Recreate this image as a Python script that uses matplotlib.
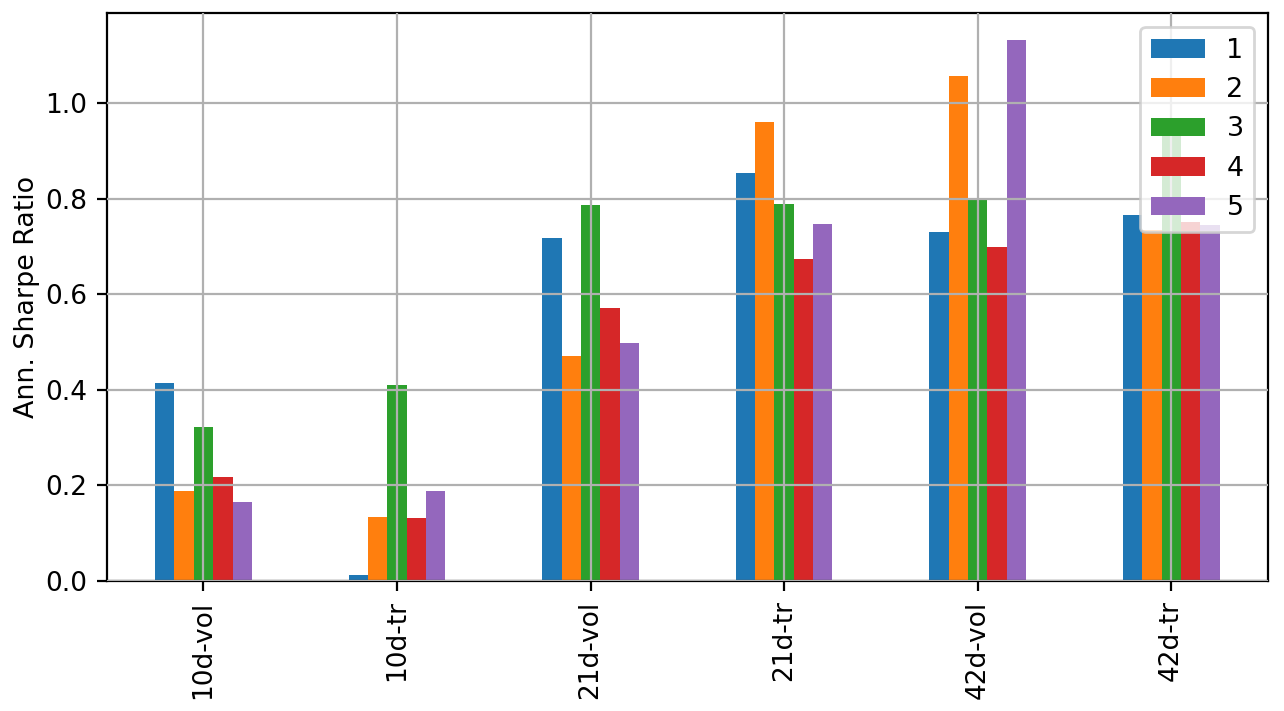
import matplotlib
matplotlib.use("Agg")
import matplotlib.pyplot as plt
import numpy as np
import pandas as pd

categories = ["10d-vol", "10d-tr", "21d-vol", "21d-tr", "42d-vol", "42d-tr"]
s1 = [0.414, 0.012, 0.718, 0.854, 0.731, 0.766]
s2 = [0.188, 0.133, 0.471, 0.961, 1.056, 0.735]
s3 = [0.322, 0.410, 0.787, 0.789, 0.798, 0.930]
s4 = [0.217, 0.131, 0.571, 0.674, 0.699, 0.752]
s5 = [0.165, 0.188, 0.498, 0.747, 1.131, 0.745]
series_names = ["1", "2", "3", "4", "5"]

df = pd.DataFrame(dict(zip(series_names, [s1, s2, s3, s4, s5])), index=categories)

plt.rcParams["font.size"] = 9.5
fig, ax = plt.subplots(figsize=(6.42, 3.555), dpi=200)
df.plot.bar(ax=ax)
ax.grid(True)
ax.set_axisbelow(False)
ax.set_ylabel("Ann. Sharpe Ratio", fontsize=9.7, labelpad=2.0)
ax.legend(loc="upper right", fontsize=9.7)
plt.xticks(rotation=90)
fig.subplots_adjust(left=0.0831, right=0.9875, top=0.9813, bottom=0.1828)
fig.savefig("out.png", dpi=200)
